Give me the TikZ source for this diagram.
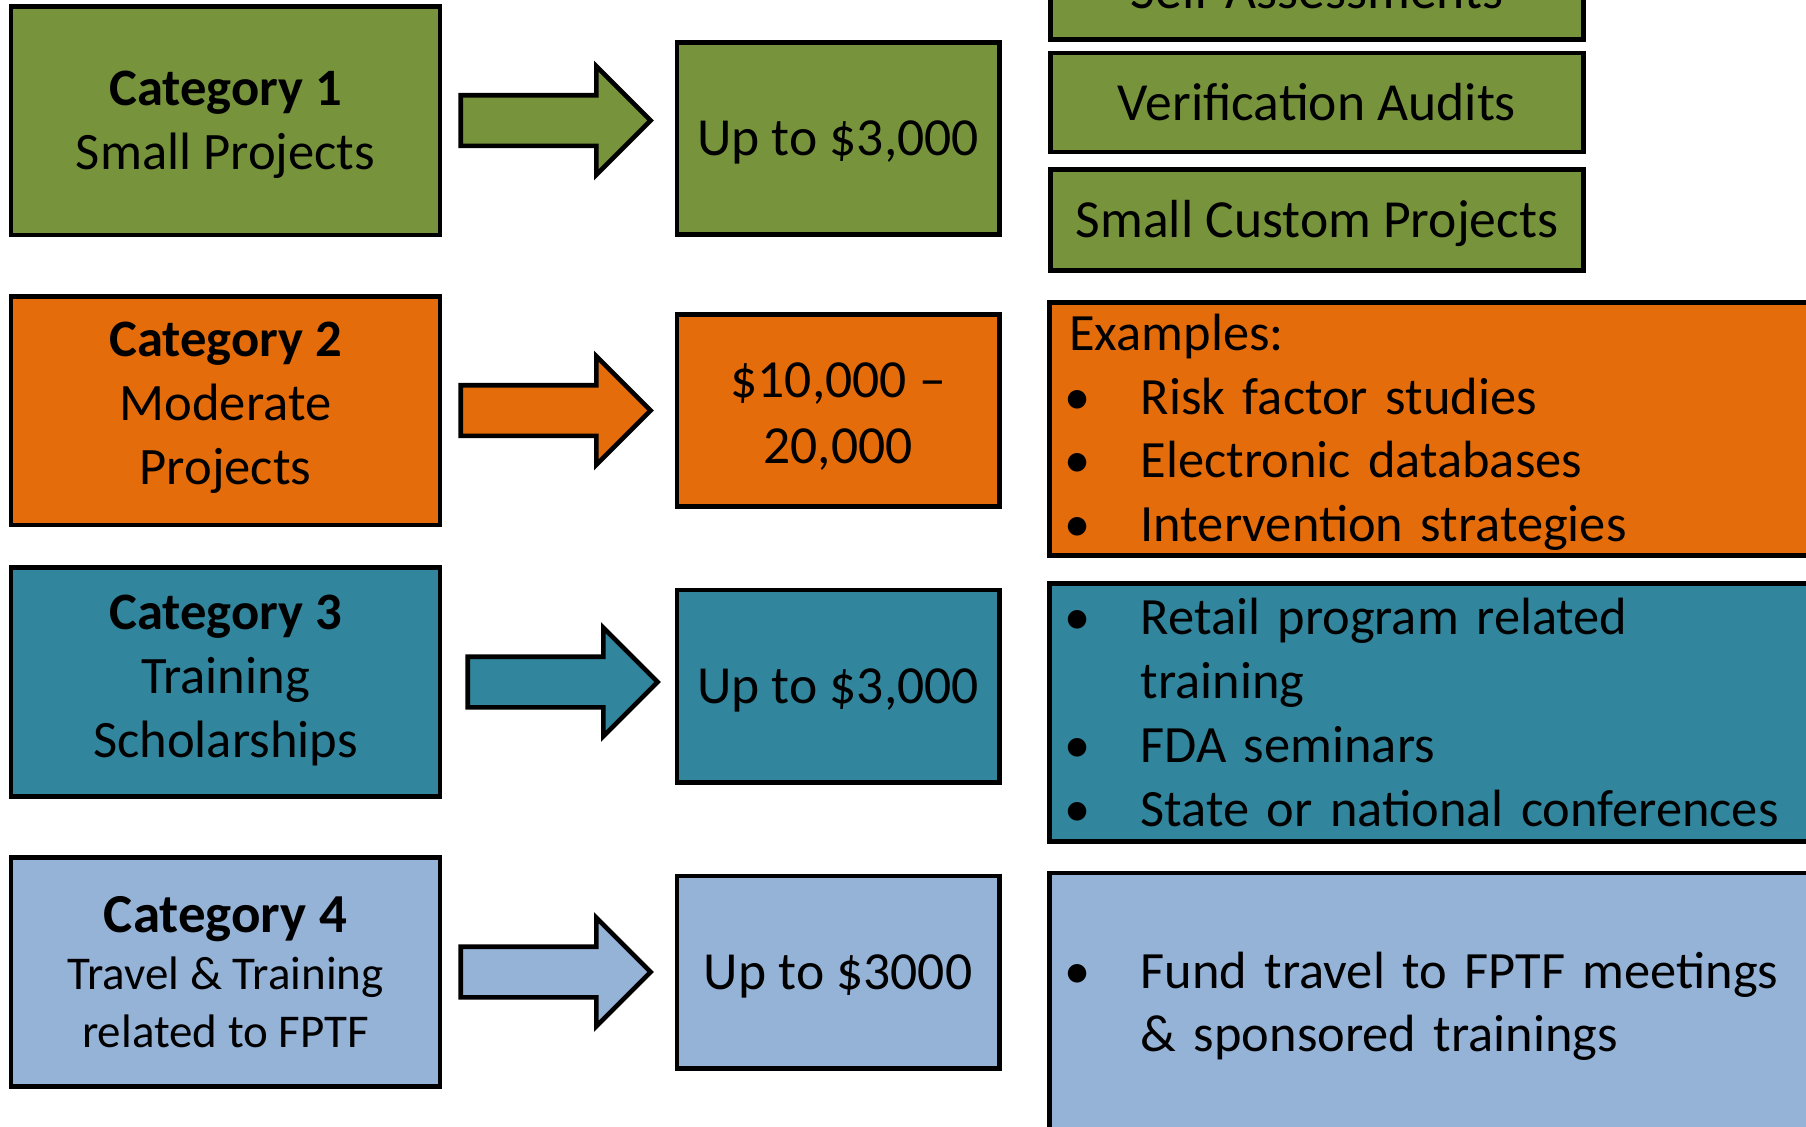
\documentclass[tikz,border=0pt]{standalone}
\usepackage{fontspec}
\setmainfont{Carlito}
\usepackage{xcolor}
\usepackage{tikz}
\usetikzlibrary{shapes.arrows, positioning}

\definecolor{catgreen}{HTML}{77933C}
\definecolor{catorange}{HTML}{E46C0A}
\definecolor{catteal}{HTML}{31859C}
\definecolor{catblue}{HTML}{95B3D7}

\newlength{\bulletgap}
\setlength{\bulletgap}{35.7pt}
\newcommand{\bitem}[1]{\makebox[\bulletgap][l]{\hspace*{-2.3pt}\textbullet}#1}
\newcommand{\tstrut}{\rule[-7pt]{0pt}{31pt}}

\begin{document}
\begin{tikzpicture}[
    x=0.5pt, y=-0.5pt,
    box/.style={rectangle, draw, line width=2.3pt, align=center, inner sep=0pt, font=\fontsize{26.8}{32.6}\selectfont},
    catbox/.style={box, minimum width=214.6pt, minimum height=114.3pt, font=\fontsize{26.3}{32}\selectfont},
    costbox/.style={box, minimum width=161.2pt, minimum height=96.2pt},
    itembox/.style={box, minimum width=266.5pt, minimum height=49.5pt},
    listbox/.style={box, anchor=west, align=left, text width=370pt, inner xsep=10pt, font=\fontsize{26.2}{31.85}\selectfont},
    bigarrow/.style={single arrow, draw, line width=2.3pt, inner xsep=0pt, inner ysep=11.5pt, single arrow head extend=14.5pt, minimum height=95pt}
]
    \useasboundingbox (0,0) rectangle (1806,1126);
    \clip (0,0) rectangle (1806,1126);

    % categories
    \node[catbox, fill=catgreen] (cat1) at (225.5,120.5) {\tstrut\textbf{Category 1}\\\tstrut Small Projects};
    \node[catbox, fill=catorange] (cat2) at (225.5,410.5) {\textbf{Category 2}\\Moderate\\\rule[-7pt]{0pt}{7pt}Projects};
    \node[catbox, fill=catteal] (cat3) at (225.5,682) {\textbf{Category 3}\\Training\\\rule[-6pt]{0pt}{6pt}Scholarships};
    \node[catbox, fill=catblue, font=\fontsize{23.5}{28.8}\selectfont] (cat4) at (225.5,972)
        {{\fontsize{27.5}{33}\selectfont\textbf{Category 4}}\\Travel \& Training\\related to FPTF};

    % arrows
    \node[bigarrow, fill=catgreen, right=8pt of cat1] (arr1) {};
    \node[bigarrow, fill=catorange, right=8pt of cat2] (arr2) {};
    \node[bigarrow, fill=catteal, right=11.5pt of cat3] (arr3) {};
    \node[bigarrow, fill=catblue, right=8pt of cat4] (arr4) {};

    % amounts
    \node[costbox, fill=catgreen, right=10.3pt of arr1, yshift=-9pt] (cost1) {\tstrut Up to \$3,000};
    \node[costbox, fill=catorange, right=10.3pt of arr2] (cost2) {\rule{0pt}{27pt}\$10,000 --\\\tstrut 20,000};
    \node[costbox, fill=catteal, right=6.8pt of arr3, yshift=-2pt] (cost3) {\tstrut Up to \$3,000};
    \node[costbox, fill=catblue, right=10.3pt of arr4] (cost4) {\tstrut Up to \$3000};

    % uses
    \node[itembox, fill=catgreen] (self) at (1317,-10) {Self-Assessments};
    \node[itembox, fill=catgreen] (verif) at (1317,102.5) {Verification Audits};
    \node[itembox, fill=catgreen, minimum height=50.5pt] (custom) at (1317,220) {\tstrut Small Custom Projects};

    \node[listbox, fill=catorange, minimum height=124pt] (ex2) at (1047,429)
        {\tstrut Examples:\\\bitem{Risk factor studies}\\\bitem{Electronic databases}\\\tstrut\bitem{Intervention strategies}};
    \node[listbox, fill=catteal, minimum height=129pt] (ex3) at (1047,712.5)
        {\bitem{Retail program related}\\\hspace*{\bulletgap}training\\\bitem{FDA seminars}\\\bitem{State or national conferences}};
    \node[listbox, fill=catblue, minimum height=128pt] (ex4) at (1047,1001)
        {\rule{0pt}{26pt}\bitem{Fund travel to FPTF meetings}\\\tstrut\hspace*{\bulletgap}\& sponsored trainings};
\end{tikzpicture}
\end{document}
